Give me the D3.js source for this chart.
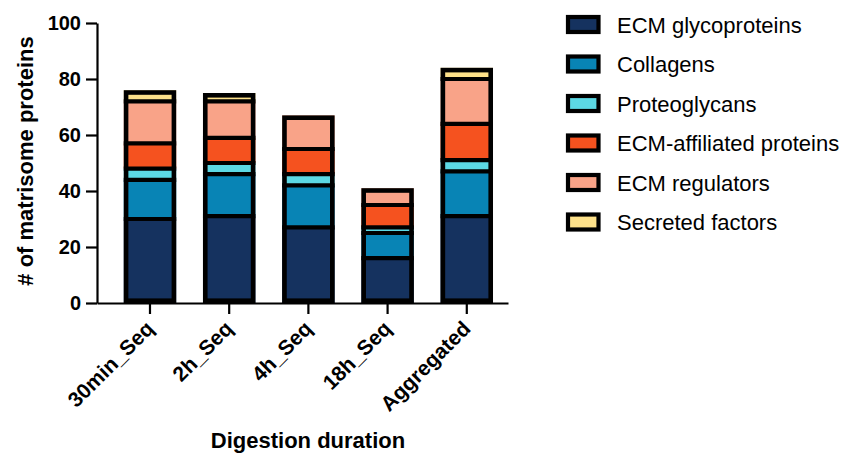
<!DOCTYPE html>
<html>
<head>
<meta charset="utf-8">
<script src="https://cdn.jsdelivr.net/npm/d3@7/dist/d3.min.js"></script>
<style>
  html, body { margin: 0; padding: 0; background: #fff; }
  svg { display: block; font-family: "Liberation Sans", Arial, Helvetica, sans-serif; }
</style>
</head>
<body>
<svg id="chart" width="850" height="455"></svg>
<script>
// Matrisome protein counts per digestion duration
const categories = ["30min_Seq", "2h_Seq", "4h_Seq", "18h_Seq", "Aggregated"];
const seriesNames = ["ECM glycoproteins", "Collagens", "Proteoglycans",
                     "ECM-affiliated proteins", "ECM regulators", "Secreted factors"];
const glycoproteins = [30, 31, 27, 16, 31];
const collagens     = [14, 15, 15,  9, 16];
const proteoglycans = [ 4,  4,  4,  2,  4];
const affiliated    = [ 9,  9,  9,  8, 13];
const regulators    = [15, 13, 12,  6, 16];
const secreted      = [ 4,  3,  0,  0,  4];
const yTicks = [0, 20, 40, 60, 80, 100];
const colors = ["#15325f", "#0884b5", "#5cd8e4", "#f5521f", "#f9a388", "#fde18a"];

const seriesValues = [glycoproteins, collagens, proteoglycans, affiliated, regulators, secreted];
const rows = categories.map((c, i) => {
  const r = { category: c };
  seriesNames.forEach((s, k) => { r[s] = seriesValues[k][i]; });
  return r;
});

const svg = d3.select("#chart");
const lineW = 4.2;

const x = d3.scaleBand()
  .domain(categories)
  .range([97, 508])
  .paddingInner(0.338)
  .paddingOuter(0.2637)
  .align(0.641);

const y = d3.scaleLinear().domain([0, 100]).range([303, 23]);

const stacked = d3.stack().keys(seriesNames)(rows);
const color = d3.scaleOrdinal().domain(seriesNames).range(colors);
const totals = rows.map(r => d3.sum(seriesNames, s => r[s]));

// filled segments
const layers = svg.append("g")
  .selectAll("g")
  .data(stacked)
  .join("g")
  .attr("fill", d => color(d.key));

layers.selectAll("rect")
  .data(d => d.filter(s => s[1] - s[0] > 0))
  .join("rect")
  .attr("x", d => x(d.data.category))
  .attr("width", x.bandwidth())
  .attr("y", d => y(d[1]))
  .attr("height", d => y(d[0]) - y(d[1]));

// black dividers between segments
const dividers = stacked.slice(0, -1).flatMap(layer =>
  layer.filter((s, i) => s[1] > s[0] && s[1] < totals[i]));
svg.append("g")
  .selectAll("line")
  .data(dividers)
  .join("line")
  .attr("x1", d => x(d.data.category))
  .attr("x2", d => x(d.data.category) + x.bandwidth())
  .attr("y1", d => y(d[1]))
  .attr("y2", d => y(d[1]))
  .attr("stroke", "#000")
  .attr("stroke-width", lineW);

// outline of each whole bar, drawn inside its bounds
svg.append("g")
  .selectAll("rect")
  .data(rows)
  .join("rect")
  .attr("x", (d, i) => x(d.category) + 2.3)
  .attr("width", x.bandwidth() - 4.6)
  .attr("y", (d, i) => y(totals[i]) + 2.3)
  .attr("height", (d, i) => y(0) - y(totals[i]) - 4.6)
  .attr("fill", "none")
  .attr("stroke", "#000")
  .attr("stroke-width", 4.6);

// y axis
const yAxis = svg.append("g")
  .attr("transform", "translate(97,0)")
  .call(d3.axisLeft(y).tickValues(yTicks).tickSize(11).tickSizeOuter(0).tickPadding(5));
yAxis.select(".domain").attr("stroke-width", 2.2);
yAxis.selectAll(".tick line").attr("stroke-width", 2.2);
yAxis.selectAll(".tick text")
  .attr("font-size", 20).attr("font-weight", "bold").attr("fill", "#000")
  .attr("font-family", "Liberation Sans, Arial, sans-serif");

// x axis with slanted category labels
const xAxis = svg.append("g")
  .attr("transform", `translate(0,${y(0)})`)
  .call(d3.axisBottom(x).tickSize(11).tickSizeOuter(0));
xAxis.select(".domain").attr("stroke-width", 2.2);
xAxis.selectAll(".tick line").attr("stroke-width", 2.2);
xAxis.selectAll(".tick text")
  .attr("font-size", 21).attr("font-weight", "bold").attr("fill", "#000")
  .attr("font-family", "Liberation Sans, Arial, sans-serif")
  .attr("text-anchor", "end")
  .attr("x", 0).attr("y", 0).attr("dy", 0)
  .attr("transform", "translate(5,27) rotate(-45)");

// axis titles
svg.append("text")
  .attr("transform", "translate(33,161) rotate(-90)")
  .attr("text-anchor", "middle")
  .attr("font-size", 22).attr("font-weight", "bold")
  .text("# of matrisome proteins");

svg.append("text")
  .attr("x", 308).attr("y", 448)
  .attr("text-anchor", "middle")
  .attr("font-size", 22).attr("font-weight", "bold")
  .text("Digestion duration");

// legend
const legend = svg.append("g")
  .selectAll("g")
  .data(seriesNames)
  .join("g")
  .attr("transform", (d, i) => `translate(568,${24.5 + i * 39.5})`);

legend.append("rect")
  .attr("x", 0).attr("y", -7.5)
  .attr("width", 30.5).attr("height", 15)
  .attr("fill", d => color(d))
  .attr("stroke", "#000").attr("stroke-width", 4.2);

legend.append("text")
  .attr("x", 49).attr("y", 8)
  .attr("font-size", 22)
  .text(d => d);
</script>
</body>
</html>
